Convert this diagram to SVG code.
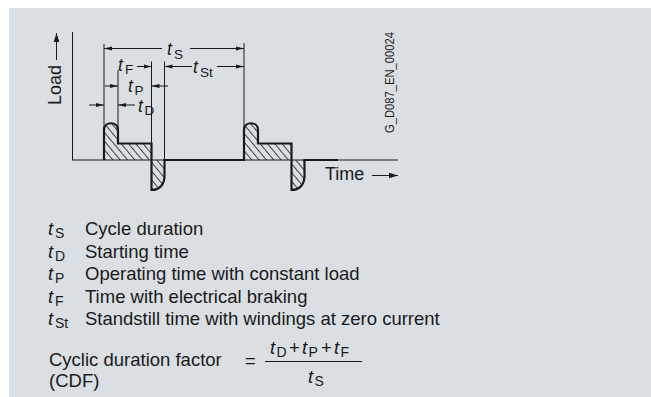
<svg xmlns="http://www.w3.org/2000/svg" width="651" height="397" viewBox="0 0 651 397">
<style>
text{font-family:"Liberation Sans",Arial,sans-serif;fill:#1a1a1a}
.t{font-size:18.5px;font-style:italic}
.td{font-size:17.5px;font-style:italic}
.s{font-size:14px}
.sd{font-size:13.5px}
.l{font-size:18.5px}
.a{font-size:18px}
.thin{stroke:#1a1a1a;stroke-width:1;fill:none}
.dim{stroke:#1a1a1a;stroke-width:1;fill:none;marker-end:url(#ah)}
.curve{stroke:#1a1a1a;stroke-width:2.2;fill:none;stroke-linejoin:miter}
.hatch{fill:url(#hatch);stroke:none}
</style>
<defs>
<marker id="ah" markerUnits="userSpaceOnUse" markerWidth="9" markerHeight="6" refX="8" refY="3" orient="auto">
<path d="M0,0.9 L8,3 L0,5.1 Z" fill="#1a1a1a"/>
</marker>
<marker id="ahL" markerUnits="userSpaceOnUse" markerWidth="10" markerHeight="8" refX="9" refY="4" orient="auto">
<path d="M0,1.2 L9,4 L0,6.8 Z" fill="#1a1a1a"/>
</marker>
<pattern id="hatch" patternUnits="userSpaceOnUse" width="5.6" height="5.6" patternTransform="rotate(-40)">
<line x1="0.5" y1="0" x2="0.5" y2="5.6" stroke="#1a1a1a" stroke-width="0.8"/>
</pattern>
</defs>
<rect x="9" y="8" width="642" height="389" fill="#dadfe3"/>

<g id="axes">
<line class="thin" x1="72.5" y1="32" x2="72.5" y2="160"/>
<line class="thin" x1="72" y1="160" x2="398" y2="160"/>
<line class="thin" x1="56.5" y1="60" x2="56.5" y2="33" style="marker-end:url(#ahL)"/>
<text class="a" transform="translate(60.5,105) rotate(-90)">Load</text>
<text class="a" x="325" y="180">Time</text>
<line class="thin" x1="372" y1="175.5" x2="398" y2="175.5" style="marker-end:url(#ahL)"/>
<text transform="translate(394,133) rotate(-90)" font-size="12" textLength="101" lengthAdjust="spacingAndGlyphs">G_D087_EN_00024</text>
</g>

<g id="load-curve">
<path class="hatch" d="M104,160 V130 C104,121 118,121 118,130 V143.5 H151.5 V160 Z"/>
<path class="hatch" d="M151.5,160 V190 C159,190 164.5,185 164.5,176 V160 Z"/>
<path class="hatch" d="M244,160 V130 C244,121 258,121 258,130 V143.5 H291.5 V160 Z"/>
<path class="hatch" d="M291.5,160 V190 C299,190 304.5,185 304.5,176 V160 Z"/>
<path class="curve" d="M104,160 V130 C104,121 118,121 118,130 V143.5 H151.5 V190 C159,190 164.5,185 164.5,176 V160 H244 V130 C244,121 258,121 258,130 V143.5 H291.5 V190 C299,190 304.5,185 304.5,176 V160 H338"/>
</g>

<g id="extension-lines">
<line class="thin" x1="104" y1="44" x2="104" y2="131"/>
<line class="thin" x1="118" y1="70" x2="118" y2="131"/>
<line class="thin" x1="151.5" y1="61.5" x2="151.5" y2="143.5"/>
<line class="thin" x1="164.5" y1="61.5" x2="164.5" y2="160"/>
<line class="thin" x1="244" y1="43" x2="244" y2="131"/>
</g>

<g id="connectors">
<line class="dim" x1="162" y1="48.5" x2="104" y2="48.5"/>
<line class="dim" x1="190" y1="48.5" x2="244" y2="48.5"/>
<line class="dim" x1="137" y1="66.5" x2="151.5" y2="66.5"/>
<line class="dim" x1="192" y1="66.5" x2="164.5" y2="66.5"/>
<line class="dim" x1="217" y1="66.5" x2="244" y2="66.5"/>
<line class="dim" x1="105" y1="86" x2="118" y2="86"/>
<line class="dim" x1="168" y1="86" x2="151.5" y2="86"/>
<line class="dim" x1="89" y1="105" x2="104" y2="105"/>
<line class="dim" x1="135" y1="105" x2="118" y2="105"/>
</g>

<g id="dim-labels">
<text class="td" x="167" y="55">t</text><text class="sd" x="174" y="58.5">S</text>
<text class="td" x="118" y="70.5">t</text><text class="sd" x="125" y="74">F</text>
<text class="td" x="193" y="72.5">t</text><text class="sd" x="200" y="76.5">St</text>
<text class="td" x="128" y="91.5">t</text><text class="sd" x="134.5" y="95">P</text>
<text class="td" x="138" y="111.5">t</text><text class="sd" x="144.5" y="115">D</text>
</g>

<g id="legend">
<text class="t" x="48" y="235">t</text><text class="s" x="55" y="238">S</text><text class="l" x="85" y="235">Cycle duration</text>
<text class="t" x="48" y="257.5">t</text><text class="s" x="55" y="260.5">D</text><text class="l" x="85" y="257.5">Starting time</text>
<text class="t" x="48" y="280">t</text><text class="s" x="55" y="283">P</text><text class="l" x="85" y="280">Operating time with constant load</text>
<text class="t" x="48" y="302.5">t</text><text class="s" x="55" y="305.5">F</text><text class="l" x="85" y="302.5">Time with electrical braking</text>
<text class="t" x="48" y="325">t</text><text class="s" x="55" y="328">St</text><text class="l" x="85" y="325">Standstill time with windings at zero current</text>
</g>

<g id="formula">
<text class="l" x="49" y="365.5">Cyclic duration factor</text>
<text class="l" x="49" y="387">(CDF)</text>
<text class="l" x="245" y="367">=</text>
<line class="thin" x1="265" y1="361.5" x2="362" y2="361.5"/>
<text class="t" x="270" y="354">t</text><text class="s" x="276.5" y="357">D</text>
<text class="l" x="289" y="354">+</text>
<text class="t" x="302" y="354">t</text><text class="s" x="308.5" y="357">P</text>
<text class="l" x="321" y="354">+</text>
<text class="t" x="334" y="354">t</text><text class="s" x="340.5" y="357">F</text>
<text class="t" x="308" y="383">t</text><text class="s" x="314.5" y="386">S</text>
</g>
</svg>
